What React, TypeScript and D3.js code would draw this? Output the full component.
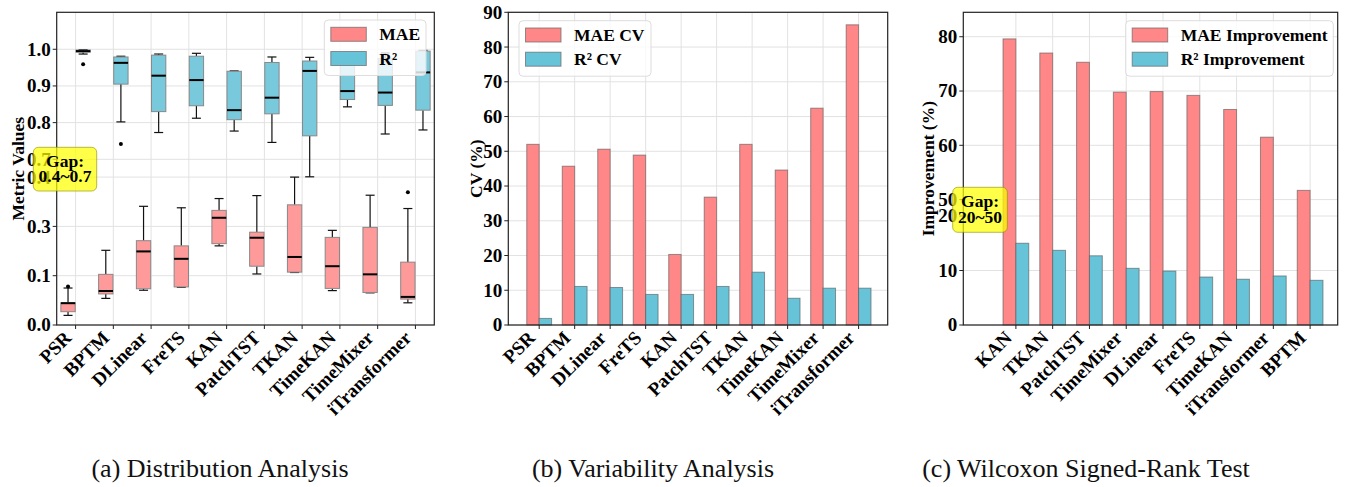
import React from "react";
import * as d3 from "d3";

// ---------- data ----------
const modelsA = ["PSR", "BPTM", "DLinear", "FreTS", "KAN", "PatchTST", "TKAN", "TimeKAN", "TimeMixer", "iTransformer"];
// MAE box stats
const maeLo = [0.026, 0.072, 0.094, 0.102, 0.214, 0.138, 0.142, 0.093, 0.087, 0.060];
const maeQ1 = [0.036, 0.084, 0.098, 0.103, 0.220, 0.159, 0.143, 0.099, 0.088, 0.070];
const maeMed = [0.059, 0.092, 0.199, 0.179, 0.290, 0.236, 0.184, 0.159, 0.137, 0.076];
const maeQ3 = [0.060, 0.137, 0.228, 0.214, 0.310, 0.251, 0.325, 0.237, 0.264, 0.170];
const maeHi = [0.100, 0.202, 0.321, 0.317, 0.342, 0.350, 0.400, 0.256, 0.351, 0.315];
const maeFliers: [number, number][] = [[0, 0.104], [9, 0.359]];
// R² box stats
const r2Lo = [0.987, 0.802, 0.773, 0.812, 0.777, 0.746, 0.405, 0.843, 0.769, 0.780];
const r2Q1 = [0.992, 0.905, 0.830, 0.846, 0.808, 0.824, 0.764, 0.863, 0.847, 0.834];
const r2Med = [0.995, 0.963, 0.928, 0.916, 0.834, 0.868, 0.941, 0.886, 0.882, 0.937];
const r2Q3 = [0.998, 0.979, 0.984, 0.981, 0.940, 0.964, 0.968, 0.985, 0.975, 0.995];
const r2Hi = [0.999, 0.981, 0.987, 0.989, 0.941, 0.979, 0.978, 0.990, 0.990, 0.997];
const r2Fliers: [number, number][] = [[0, 0.959], [1, 0.742]];
const ticksA = [0, 0.4 / 3, 0.8 / 3, 0.4, 0.7, 0.8, 0.9, 1.0];
const tickLabelsA = ["0.0", "0.1", "0.3", "0.4", "0.7", "0.8", "0.9", "1.0"];

// Panel b
const maeCV = [52.0, 45.7, 50.6, 48.9, 20.3, 36.8, 52.0, 44.6, 62.4, 86.4];
const r2CV = [1.9, 11.1, 10.8, 8.8, 8.8, 11.1, 15.2, 7.7, 10.6, 10.6];
const ticksB = [0, 10, 20, 30, 40, 50, 60, 70, 80, 90];

// Panel c
const modelsC = ["KAN", "TKAN", "PatchTST", "TimeMixer", "DLinear", "FreTS", "TimeKAN", "iTransformer", "BPTM"];
const maeImp = [79.6, 77.0, 75.3, 69.8, 69.9, 69.2, 66.6, 61.5, 51.7];
const r2Imp = [15.0, 13.7, 12.7, 10.4, 9.9, 8.8, 8.4, 9.0, 8.2];
const ticksC = [0, 10, 20, 50, 60, 70, 80];

// ---------- style ----------
const FONT = "'Liberation Serif', 'Times New Roman', serif";
const RED_BAR = "#FF8787";
const BLUE_BAR = "#66C3D8";
const RED_BOX = "#FF9A9A";
const BLUE_BOX = "#78C9DC";
const GRID = "#e2e2e2";
const TOP = 12.3;
const BOTTOM = 325;
const TICK_FS = 19;

type Panel = { left: number; right: number };
const PA: Panel = { left: 56.7, right: 434.3 };
const PB: Panel = { left: 508.3, right: 887.7 };
const PC: Panel = { left: 963.3, right: 1337.7 };

const xA = d3.scaleLinear().domain([-0.5, 9.5]).range([PA.left, PA.right]);
const yA = d3.scaleLinear().domain([0, 0.4, 0.7, 1.1]).range([BOTTOM, 177.1, 159.3, 12.6]);
const xB = d3.scaleLinear().domain([-0.87, 9.82]).range([PB.left, PB.right]);
const yB = d3.scaleLinear().domain([0, 90]).range([BOTTOM, TOP]);
const xC = d3.scaleLinear().domain([-1.43, 8.75]).range([PC.left, PC.right]);
const yC = d3.scaleLinear().domain([0, 20, 50, 84.5]).range([BOTTOM, 216, 199.6, TOP]);

function Grid({ p, xs, ys, xTicks, yTicks }: any) {
  return (
    <g>
      {xTicks.map((t: number, i: number) => (
        <line key={"gx" + i} x1={xs(t)} x2={xs(t)} y1={TOP} y2={BOTTOM} stroke={GRID} strokeWidth={1} />
      ))}
      {yTicks.map((t: number, i: number) => (
        <line key={"gy" + i} x1={p.left} x2={p.right} y1={ys(t)} y2={ys(t)} stroke={GRID} strokeWidth={1} />
      ))}
    </g>
  );
}

function Frame({ p, xs, ys, cats, yTicks, yLabels, ylabel, ylabelX }: any) {
  return (
    <g fontFamily={FONT} fontWeight="bold" fill="#000">
      <rect x={p.left} y={TOP} width={p.right - p.left} height={BOTTOM - TOP} fill="none" stroke="#222" strokeWidth={1.2} />
      {yTicks.map((t: number, i: number) => (
        <g key={"yt" + i}>
          <line x1={p.left - 4} x2={p.left} y1={ys(t)} y2={ys(t)} stroke="#222" strokeWidth={1} />
          <text x={p.left - 6} y={ys(t)} dy="0.34em" textAnchor="end" fontSize={TICK_FS}>
            {yLabels[i]}
          </text>
        </g>
      ))}
      {cats.map((c: string, i: number) => (
        <g key={"xt" + i}>
          <line x1={xs(i)} x2={xs(i)} y1={BOTTOM} y2={BOTTOM + 4} stroke="#222" strokeWidth={1} />
          <text
            transform={`translate(${xs(i) - 3},${BOTTOM + 14}) rotate(-45)`}
            textAnchor="end"
            fontSize={TICK_FS}
          >
            {c}
          </text>
        </g>
      ))}
      <text
        transform={`translate(${ylabelX},${(TOP + BOTTOM) / 2}) rotate(-90)`}
        textAnchor="middle"
        dominantBaseline="central"
        fontSize={17.5}
      >
        {ylabel}
      </text>
    </g>
  );
}

function Legend({ x, y, w, labels }: any) {
  return (
    <g fontFamily={FONT} fontWeight="bold">
      <rect x={x} y={y} width={w} height={55.5} rx={4} fill="#fff" fillOpacity={0.8} stroke="#dddddd" strokeWidth={1} />
      {labels.map((l: string, i: number) => (
        <g key={l}>
          <rect
            x={x + 6.5}
            y={y + 7.3 + i * 24.2}
            width={35.5}
            height={14}
            fill={i === 0 ? RED_BAR : BLUE_BAR}
            stroke="#666"
            strokeOpacity={0.7}
            strokeWidth={1}
          />
          <text x={x + 55} y={y + 14.3 + i * 24.2} dy="0.35em" fontSize={17.5}>
            {l}
          </text>
        </g>
      ))}
    </g>
  );
}

function GapBox({ x, y, w, h, line1, line2 }: any) {
  return (
    <g fontFamily={FONT} fontWeight="bold">
      <rect x={x} y={y} width={w} height={h} rx={5} fill="#ffff00" fillOpacity={0.72} stroke="#8a8a00" strokeOpacity={0.6} strokeWidth={1} />
      <text x={x + w / 2} y={y + h * 0.3} dy="0.35em" textAnchor="middle" fontSize={17.5}>
        {line1}
      </text>
      <text x={x + w / 2} y={y + h * 0.66} dy="0.35em" textAnchor="middle" fontSize={17.5}>
        {line2}
      </text>
    </g>
  );
}

function BoxSet({ lo, q1, med, q3, hi, fliers, offset, fill }: any) {
  const bw = xA(0.38) - xA(0);
  const cw = 4.5;
  return (
    <g>
      {modelsA.map((_, i) => {
        const cx = xA(i + offset);
        return (
          <g key={i}>
            <line x1={cx} x2={cx} y1={yA(q3[i])} y2={yA(hi[i])} stroke="#111" strokeWidth={1.2} />
            <line x1={cx} x2={cx} y1={yA(q1[i])} y2={yA(lo[i])} stroke="#111" strokeWidth={1.2} />
            <line x1={cx - cw} x2={cx + cw} y1={yA(hi[i])} y2={yA(hi[i])} stroke="#111" strokeWidth={1.2} />
            <line x1={cx - cw} x2={cx + cw} y1={yA(lo[i])} y2={yA(lo[i])} stroke="#111" strokeWidth={1.2} />
            <rect
              x={cx - bw / 2}
              y={yA(q3[i])}
              width={bw}
              height={Math.max(1, yA(q1[i]) - yA(q3[i]))}
              fill={fill}
              stroke="#888"
              strokeWidth={1}
            />
            <line x1={cx - bw / 2} x2={cx + bw / 2} y1={yA(med[i])} y2={yA(med[i])} stroke="#000" strokeWidth={2} />
          </g>
        );
      })}
      {fliers.map((f: [number, number], k: number) => (
        <circle key={"f" + k} cx={xA(f[0] + offset)} cy={yA(f[1])} r={2} fill="#000" />
      ))}
    </g>
  );
}

function Bars({ xs, ys, a, b }: any) {
  const w = xs(0.35) - xs(0);
  return (
    <g>
      {a.map((v: number, i: number) => (
        <rect key={"a" + i} x={xs(i - 0.35)} y={ys(v)} width={w} height={ys(0) - ys(v)} fill={RED_BAR} stroke="#555" strokeOpacity={0.6} strokeWidth={1} />
      ))}
      {b.map((v: number, i: number) => (
        <rect key={"b" + i} x={xs(i)} y={ys(v)} width={w} height={ys(0) - ys(v)} fill={BLUE_BAR} stroke="#555" strokeOpacity={0.6} strokeWidth={1} />
      ))}
    </g>
  );
}

export default function App() {
  const idxA = modelsA.map((_, i) => i);
  const idxC = modelsC.map((_, i) => i);
  return (
    <svg
      width={1346}
      height={487}
      viewBox="0 0 1346 487"
      style={{ position: "absolute", left: 0, top: 0, background: "#fff" }}
    >
      <rect width={1346} height={487} fill="#fff" />
      {/* Panel A */}
      <Grid p={PA} xs={xA} ys={yA} xTicks={idxA} yTicks={ticksA} />
      <BoxSet lo={maeLo} q1={maeQ1} med={maeMed} q3={maeQ3} hi={maeHi} fliers={maeFliers} offset={-0.2} fill={RED_BOX} />
      <BoxSet lo={r2Lo} q1={r2Q1} med={r2Med} q3={r2Q3} hi={r2Hi} fliers={r2Fliers} offset={0.2} fill={BLUE_BOX} />
      <Frame p={PA} xs={xA} ys={yA} cats={modelsA} yTicks={ticksA} yLabels={tickLabelsA} ylabel="Metric Values" ylabelX={18} />
      <Legend x={324.3} y={20} w={101.7} labels={["MAE", "R²"]} />
      <GapBox x={33.3} y={147.3} w={63.4} h={43.7} line1="Gap:" line2="0.4~0.7" />

      {/* Panel B */}
      <Grid p={PB} xs={xB} ys={yB} xTicks={idxA} yTicks={ticksB} />
      <Bars xs={xB} ys={yB} a={maeCV} b={r2CV} />
      <Frame p={PB} xs={xB} ys={yB} cats={modelsA} yTicks={ticksB} yLabels={ticksB.map(String)} ylabel="CV (%)" ylabelX={476} />
      <Legend x={519} y={20.7} w={132} labels={["MAE CV", "R² CV"]} />

      {/* Panel C */}
      <Grid p={PC} xs={xC} ys={yC} xTicks={idxC} yTicks={ticksC} />
      <Bars xs={xC} ys={yC} a={maeImp} b={r2Imp} />
      <Frame p={PC} xs={xC} ys={yC} cats={modelsC} yTicks={ticksC} yLabels={ticksC.map(String)} ylabel="Improvement (%)" ylabelX={928} />
      <Legend x={1125.7} y={20.7} w={207.6} labels={["MAE Improvement", "R² Improvement"]} />
      <GapBox x={952.7} y={187.3} w={54.6} h={45} line1="Gap:" line2="20~50" />

      {/* captions */}
      <g fontFamily={FONT} fontSize={26} fill="#111">
        <text x={220} y={477} textAnchor="middle">(a) Distribution Analysis</text>
        <text x={653} y={477} textAnchor="middle">(b) Variability Analysis</text>
        <text x={1086} y={477} textAnchor="middle">(c) Wilcoxon Signed-Rank Test</text>
      </g>
    </svg>
  );
}
